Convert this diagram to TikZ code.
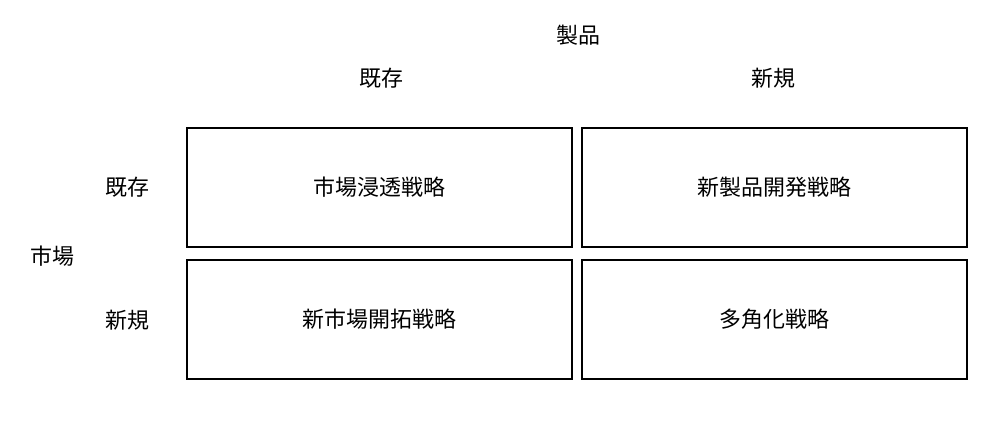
\documentclass[tikz,border=0pt]{standalone}
\usepackage{fontspec}
\setmainfont{Noto Sans CJK JP}
\usetikzlibrary{positioning}

\begin{document}
\begin{tikzpicture}[x=0.02cm, y=-0.02cm,
    cell/.style={rectangle, draw=black, line width=1.1pt, minimum width=7.7cm, minimum height=2.38cm, font=\fontsize{12.5}{15}\selectfont},
    label/.style={font=\fontsize{12.5}{15}\selectfont}
]
\useasboundingbox (0,0) rectangle (1001,420);

% Headings
\node[label] (product) at (578,35) {製品};
\node[label] (colold) at (381,78) {既存};
\node[label] (colnew) at (773,78) {新規};
\node[label] (market) at (52,256) {市場};
\node[label] (rowold) at (127,187) {既存};
\node[label] (rownew) at (127,320) {新規};

% Matrix
\node[cell] (penetration) at (379.5,187.5) {市場浸透戦略};
\node[cell] (development) at (774.5,187.5) {新製品開発戦略};
\node[cell] (pioneering) at (379.5,319.5) {新市場開拓戦略};
\node[cell] (diversification) at (774.5,319.5) {多角化戦略};

\end{tikzpicture}
\end{document}
